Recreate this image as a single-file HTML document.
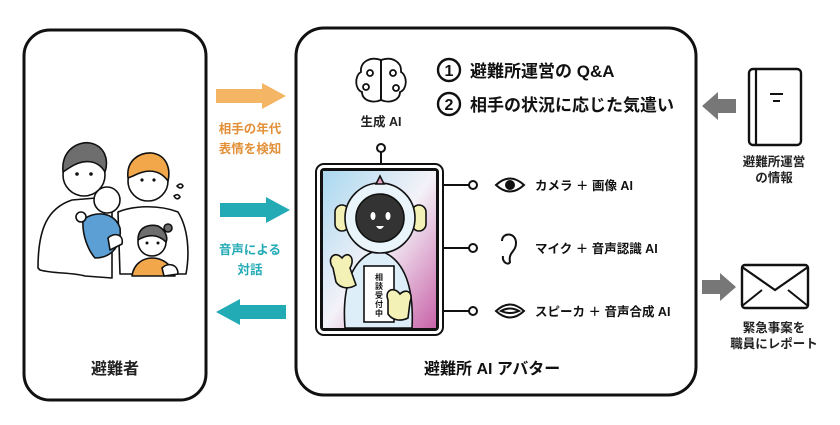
<!DOCTYPE html>
<html><head><meta charset="utf-8"><style>
html,body{margin:0;padding:0;background:#fff;}
body{width:840px;height:420px;overflow:hidden;font-family:"Liberation Sans","Noto Sans CJK JP",sans-serif;}
svg text{font-family:"Liberation Sans","Noto Sans CJK JP",sans-serif;font-weight:bold;}
</style></head><body>
<svg width="840" height="420" viewBox="0 0 840 420" xmlns="http://www.w3.org/2000/svg">
<defs>
<linearGradient id="scr" x1="0" y1="0" x2="1" y2="1">
<stop offset="0" stop-color="#a9d8ef"/><stop offset="0.5" stop-color="#f4f2f8"/><stop offset="1" stop-color="#c863a8"/>
</linearGradient>
</defs>
<rect x="24" y="30" width="182" height="370" rx="26" fill="none" stroke="#111" stroke-width="3"/>
<rect x="296" y="28" width="400" height="367" rx="28" fill="none" stroke="#111" stroke-width="3"/>

<!-- family -->
<g stroke="#111" stroke-width="1.6" stroke-linejoin="round" stroke-linecap="round">
 <path d="M38 268 C38 228 48 208 72 200 L96 198 L112 205 L112 278 L85 276 C70 272 55 274 40 270 Z" fill="#fff"/>
 <path d="M118 212 C135 205 160 205 178 212 C188 228 190 252 186 274 L120 274 Z" fill="#fff"/>
 <circle cx="84" cy="175" r="21" fill="#fff"/>
 <path d="M63 172 C61 150 78 141 90 143 C105 146 109 160 105 172 C98 160 84 158 69 168 Z" fill="#6e6e6e"/>
 <circle cx="148" cy="181" r="20" fill="#fff"/>
 <path d="M128 178 C126 160 140 152 152 153 C166 155 171 168 168 181 C160 170 148 168 133 176 Z" fill="#f2a84a"/>
 <path d="M83 220 C95 210 115 212 120 228 C122 245 112 258 95 258 C88 250 82 235 83 220 Z" fill="#5b9fd4"/>
 <circle cx="107" cy="200" r="13" fill="#fff"/>
 <circle cx="81" cy="217" r="5" fill="#fff"/>
 <path d="M108 238 C114 232 124 234 122 244 L110 250 Z" fill="#fff"/>
 <path d="M132 276 C134 262 145 258 152 258 C162 258 172 264 175 276 Z" fill="#f2a84a"/>
 <circle cx="152" cy="242" r="14" fill="#fff"/>
 <path d="M138 240 C138 226 150 224 158 226 C166 230 168 238 166 242 C158 234 148 234 138 240 Z" fill="#6e6e6e"/>
 <circle cx="168" cy="228" r="4" fill="#6e6e6e"/>
 <path d="M162 268 C168 262 178 264 178 274 L164 276 Z" fill="#fff"/>
 <path d="M177 186 q4 -4 6 0 q-2 4 -6 0Z M174 196 q4 -3 6 1 q-3 4 -6 -1Z" fill="#fff"/>
</g>
<g fill="#111"><circle cx="77" cy="174" r="1.8"/><circle cx="91" cy="174" r="1.8"/><circle cx="142" cy="180" r="1.6"/><circle cx="154" cy="180" r="1.6"/><circle cx="147" cy="243" r="1.5"/><circle cx="158" cy="243" r="1.5"/></g>
<text x="115" y="374" font-size="16" text-anchor="middle" fill="#222">避難者</text>

<polygon points="216,89 262,89 262,83 286,96 262,109 262,103 216,103" fill="#f4b565"/>
<text x="250" y="133" font-size="12.5" text-anchor="middle" fill="#e39038">相手の年代</text>
<text x="250" y="153" font-size="12.5" text-anchor="middle" fill="#e39038">表情を検知</text>
<polygon points="220,203 266,203 266,197 290,210 266,223 266,217 220,217" fill="#22aab5"/>
<text x="250" y="254" font-size="12.5" text-anchor="middle" fill="#22aab5">音声による</text>
<text x="250" y="274" font-size="12.5" text-anchor="middle" fill="#22aab5">対話</text>
<polygon points="286,305 240,305 240,299 216,312 240,325 240,319 286,319" fill="#22aab5"/>

<g stroke="#111" stroke-width="1.8" fill="#fff">
 <path d="M381 60 C370 56 360 62 361 72 C354 76 355 90 362 92 C362 100 372 104 381 100 Z"/>
 <path d="M381 60 C392 56 402 62 401 72 C408 76 407 90 400 92 C400 100 390 104 381 100 Z"/>
 <line x1="381" y1="60" x2="381" y2="100"/>
 <circle cx="370" cy="73" r="3"/><circle cx="393" cy="73" r="3"/><circle cx="366" cy="87" r="3"/><circle cx="396" cy="88" r="3"/>
</g>
<text x="381" y="126" font-size="12.5" text-anchor="middle" fill="#222">生成 AI</text>

<circle cx="449" cy="70" r="11" fill="none" stroke="#111" stroke-width="2.4"/>
<text x="449" y="76" font-size="16" text-anchor="middle" fill="#111">1</text>
<text x="470" y="77" font-size="17" fill="#111">避難所運営の Q&amp;A</text>
<circle cx="449" cy="104" r="11" fill="none" stroke="#111" stroke-width="2.4"/>
<text x="449" y="110" font-size="16" text-anchor="middle" fill="#111">2</text>
<text x="470" y="111" font-size="17" fill="#111">相手の状況に応じた気遣い</text>

<line x1="381" y1="152" x2="381" y2="164" stroke="#111" stroke-width="2"/>
<circle cx="381" cy="148" r="4" fill="#fff" stroke="#111" stroke-width="2"/>
<rect x="316" y="164" width="127" height="171" rx="8" fill="#fff" stroke="#111" stroke-width="2"/>
<rect x="320" y="168" width="119" height="163" rx="4" fill="#111"/>
<rect x="323" y="171" width="113" height="157" fill="url(#scr)"/>
<g stroke="#111" stroke-width="1.6">
 <path d="M345 328 C342 290 350 258 378 250 C406 258 414 290 412 328 Z" fill="#ddeef8"/>
 <rect x="335" y="205" width="14" height="26" rx="7" fill="#f3f1b6"/>
 <rect x="412" y="205" width="14" height="26" rx="7" fill="#f3f1b6"/>
 <circle cx="380" cy="218" r="35" fill="#eaf4fb"/>
 <circle cx="380" cy="218" r="24" fill="#333"/>
 <path d="M376 184 L380 176 L384 184 Z" fill="#e9a5c8"/>
 <path d="M333 268 C326 258 335 250 342 258 C348 250 356 258 350 268 L356 285 C348 290 340 288 336 282 Z" fill="#f3f1b6"/>
 <rect x="364" y="266" width="30" height="56" fill="#fff"/>
 <path d="M388 300 C384 290 394 286 400 294 C406 288 414 292 410 302 L408 318 C400 322 392 320 388 314 Z" fill="#f3f1b6"/>
</g>
<ellipse cx="373" cy="216" rx="2.5" ry="4" fill="#fff"/><ellipse cx="388" cy="216" rx="2.5" ry="4" fill="#fff"/>
<path d="M376 226 Q380 232 384 226 Z" fill="#fff"/>
<g font-size="8" text-anchor="middle" fill="#111">
<text x="379" y="280">相</text><text x="379" y="289">談</text><text x="379" y="298">受</text><text x="379" y="307">付</text><text x="379" y="316">中</text>
</g>

<g stroke="#111" stroke-width="2" fill="#fff">
 <line x1="443" y1="185" x2="469" y2="185"/><circle cx="473" cy="185" r="4"/>
 <line x1="443" y1="248" x2="469" y2="248"/><circle cx="473" cy="248" r="4"/>
 <line x1="443" y1="311" x2="469" y2="311"/><circle cx="473" cy="311" r="4"/>
 <path d="M496 185 Q510 172 524 185 Q510 198 496 185 Z"/>
 <path d="M502 241 C502 232 516 232 516 243 C516 252 508 252 510 262 C508 266 502 262 503 256" fill="none"/>
 <path d="M496 311 Q510 298 524 311 Q510 324 496 311 Z"/><path d="M501 311 Q510 306 519 311 Q510 315 501 311Z" fill="none"/>
</g>
<circle cx="510" cy="185" r="5" fill="#111"/>
<text x="535" y="190" font-size="12.5" fill="#111">カメラ ＋ 画像 AI</text>
<text x="535" y="253" font-size="12.5" fill="#111">マイク ＋ 音声認識 AI</text>
<text x="535" y="316" font-size="12.5" fill="#111">スピーカ ＋ 音声合成 AI</text>

<text x="424" y="374" font-size="16" fill="#111">避難所 AI アバター</text>

<polygon points="736,99 718,99 718,92 702,106 718,120 718,113 736,113" fill="#777"/>
<rect x="749" y="69" width="52" height="76" rx="4" fill="#fff" stroke="#111" stroke-width="2.4"/>
<line x1="756" y1="69" x2="756" y2="145" stroke="#111" stroke-width="2.2"/>
<line x1="770" y1="94" x2="783" y2="94" stroke="#111" stroke-width="2"/>
<line x1="773" y1="101" x2="780" y2="101" stroke="#111" stroke-width="2"/>
<text x="774" y="166" font-size="12.5" text-anchor="middle" fill="#222">避難所運営</text>
<text x="774" y="182" font-size="12.5" text-anchor="middle" fill="#222">の情報</text>

<polygon points="702,280 720,280 720,273 736,287 720,301 720,294 702,294" fill="#777"/>
<rect x="742" y="265" width="66" height="43" rx="3" fill="#fff" stroke="#111" stroke-width="2.4"/>
<polyline points="742,267 775,290 808,267" fill="none" stroke="#111" stroke-width="2.2"/>
<line x1="742" y1="306" x2="762" y2="290" stroke="#111" stroke-width="2"/>
<line x1="808" y1="306" x2="788" y2="290" stroke="#111" stroke-width="2"/>
<text x="774" y="332" font-size="12.5" text-anchor="middle" fill="#222">緊急事案を</text>
<text x="774" y="348" font-size="12.5" text-anchor="middle" fill="#222">職員にレポート</text>
</svg>
</body></html>
